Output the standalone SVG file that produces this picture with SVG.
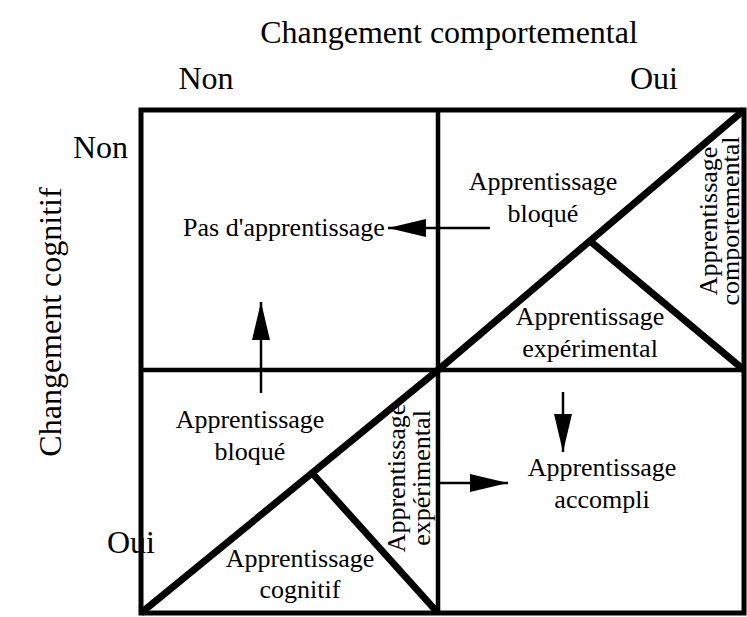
<svg xmlns="http://www.w3.org/2000/svg" width="747" height="617" viewBox="0 0 747 617">
<defs>
<style>
text{font-family:"Liberation Serif","Times New Roman",serif;fill:#000}
.axis{font-size:32px}
.lbl{font-size:26px;text-anchor:middle}
.frame{fill:none;stroke:#000;stroke-width:5}
.mid{stroke:#000;stroke-width:4.5;fill:none}
.diag{stroke:#000;stroke-width:7;fill:none;stroke-linecap:butt}
.arr{stroke:#000;stroke-width:2.5;fill:none;marker-end:url(#ah)}
</style>
<marker id="ah" markerUnits="userSpaceOnUse" markerWidth="40" markerHeight="20" refX="38" refY="9" orient="auto">
<path d="M0,0 L38,9 L0,18 Z" fill="#000"/>
</marker>
</defs>
<rect width="747" height="617" fill="#fff"/>

<g id="axes">
<text class="axis" x="449" y="43" text-anchor="middle">Changement comportemental</text>
<text class="axis" x="206" y="89" text-anchor="middle">Non</text>
<text class="axis" x="654" y="89" text-anchor="middle">Oui</text>
<text class="axis" x="73" y="158">Non</text>
<text class="axis" x="107" y="553">Oui</text>
<text class="axis" font-size="37" text-anchor="middle" transform="translate(61,322) rotate(-90)">Changement cognitif</text>
</g>

<g id="grid">
<rect class="frame" x="141" y="110" width="603" height="503"/>
<line class="mid" x1="438" y1="110" x2="438" y2="613"/>
<line class="mid" x1="141" y1="370" x2="744" y2="370"/>
<line class="diag" x1="438" y1="370" x2="744" y2="110"/>
<line class="diag" x1="590" y1="241" x2="744" y2="370"/>
<line class="diag" x1="141" y1="613" x2="438" y2="370"/>
<line class="diag" x1="312" y1="473" x2="438" y2="613"/>
</g>

<g id="n-pas">
<text class="lbl" x="284" y="236">Pas d'apprentissage</text>
</g>
<g id="n-bloque-tr">
<text class="lbl" x="543" y="190">Apprentissage</text>
<text class="lbl" x="543" y="222">bloqué</text>
</g>
<g id="n-exp-tr">
<text class="lbl" x="590" y="325">Apprentissage</text>
<text class="lbl" x="590" y="357">expérimental</text>
</g>
<g id="n-comp-tr">
<text class="lbl" transform="translate(717,221) rotate(-90)">Apprentissage</text>
<text class="lbl" transform="translate(739,221) rotate(-90)">comportemental</text>
</g>
<g id="n-bloque-bl">
<text class="lbl" x="250" y="428">Apprentissage</text>
<text class="lbl" x="250" y="460">bloqué</text>
</g>
<g id="n-cog-bl">
<text class="lbl" x="300" y="567">Apprentissage</text>
<text class="lbl" x="300" y="598">cognitif</text>
</g>
<g id="n-exp-bl">
<text class="lbl" transform="translate(405,478) rotate(-90)">Apprentissage</text>
<text class="lbl" transform="translate(430,478) rotate(-90)">expérimental</text>
</g>
<g id="n-accompli">
<text class="lbl" x="602" y="476">Apprentissage</text>
<text class="lbl" x="602" y="508">accompli</text>
</g>

<g id="connectors">
<line class="arr" x1="490" y1="228" x2="388" y2="228"/>
<line class="arr" x1="261" y1="393" x2="261" y2="302"/>
<line class="arr" x1="563" y1="392" x2="563" y2="452"/>
<line class="arr" x1="438" y1="483" x2="508" y2="483"/>
</g>
</svg>
